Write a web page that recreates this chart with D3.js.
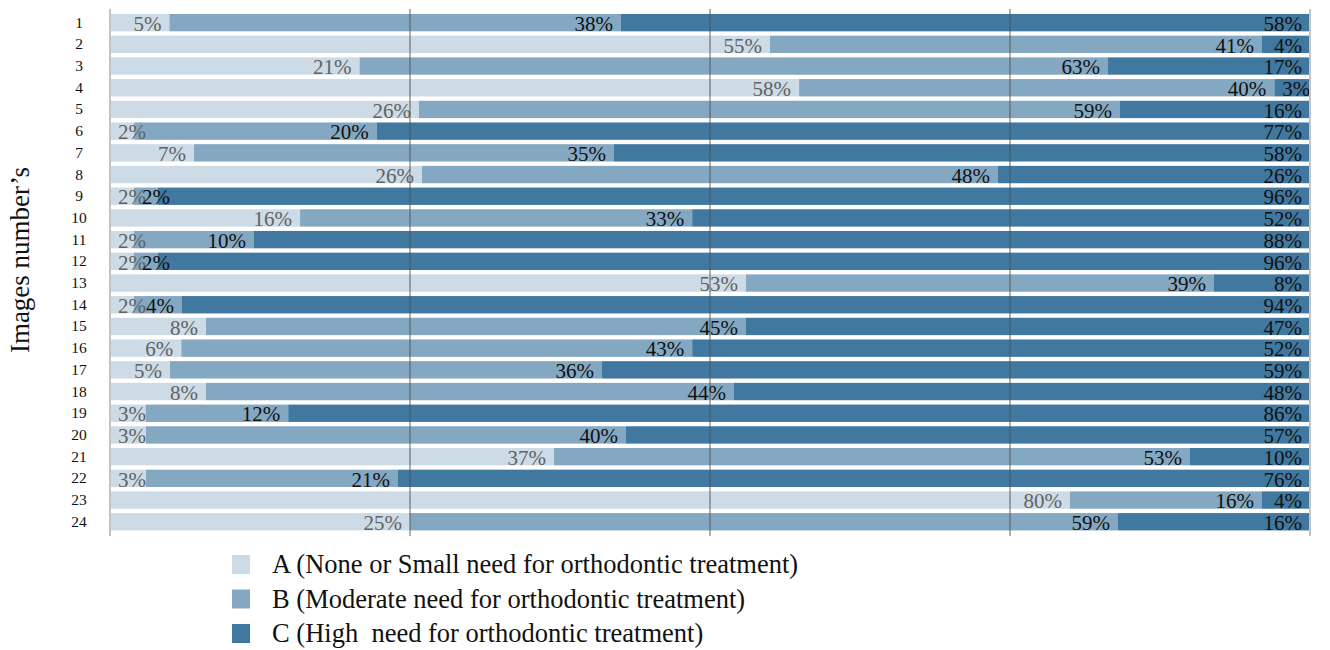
<!DOCTYPE html>
<html>
<head>
<meta charset="utf-8">
<script src="https://cdn.jsdelivr.net/npm/d3@7"></script>
<style>
  body { margin: 0; background: #fff; }
  text { font-family: "Liberation Serif", "Times New Roman", serif; }
</style>
</head>
<body>
<div id="chart"></div>
<script>
// image numbers 1..24, share of each treatment-need grade
var images = d3.range(1, 25).map(String);
var gradeA = [5, 55, 21, 58, 26, 2, 7, 26, 2, 16, 2, 2, 53, 2, 8, 6, 5, 8, 3, 3, 37, 3, 80, 25];
var gradeB = [38, 41, 63, 40, 59, 20, 35, 48, 2, 33, 10, 2, 39, 4, 45, 43, 36, 44, 12, 40, 53, 21, 16, 59];
var gradeC = [58, 4, 17, 3, 16, 77, 58, 26, 96, 52, 88, 96, 8, 94, 47, 52, 59, 48, 86, 57, 10, 76, 4, 16];
var gridTicks = [0, 0.25, 0.5, 0.75, 1];
var legendLabels = [
  "A (None or Small need for orthodontic treatment)",
  "B (Moderate need for orthodontic treatment)",
  "C (High\u00a0 need for orthodontic treatment)"
];

var W = 1330, H = 650;
var colors = ["#cddbe6", "#84a8c1", "#41789f"];
var labelColors = ["#626262", "#111111", "#111111"];

var svg = d3.select("#chart").append("svg")
  .attr("width", W).attr("height", H);

var x = d3.scaleLinear().domain([0, 1]).range([110, 1310]);
var y = d3.scaleBand().domain(images).range([11.8, 532.6])
  .paddingInner(0.2).paddingOuter(0.1);

// build stacked rows (normalised to the row total)
var rows = images.map(function(img, i) {
  var vals = [gradeA[i], gradeB[i], gradeC[i]];
  var total = d3.sum(vals);
  var acc = 0;
  return vals.map(function(v, k) {
    var seg = {img: img, k: k, v: v, x0: acc / total, x1: (acc + v) / total};
    acc += v;
    return seg;
  });
});
var segs = rows.flat();

svg.append("g").selectAll("rect")
  .data(segs)
  .enter().append("rect")
  .attr("x", function(d) { return x(d.x0); })
  .attr("width", function(d) { return x(d.x1) - x(d.x0); })
  .attr("y", function(d) { return y(d.img); })
  .attr("height", y.bandwidth())
  .attr("fill", function(d) { return colors[d.k]; });

// value labels
var lab = svg.append("g").selectAll("text")
  .data(segs)
  .enter().append("text")
  .attr("y", function(d) { return y(d.img) + y.bandwidth() - 0.5; })
  .style("font-size", "21px")
  .attr("fill", function(d) { return labelColors[d.k]; })
  .text(function(d) { return d.v + "%"; });

lab.each(function(d) {
  var t = d3.select(this);
  var w = this.getComputedTextLength();
  var segW = x(d.x1) - x(d.x0);
  if (w + 10 > segW) {
    t.attr("x", x(d.x0) + 8).attr("text-anchor", "start");
  } else {
    t.attr("x", x(d.x1) - 8).attr("text-anchor", "end");
  }
});

// grid lines
svg.append("g").selectAll("line")
  .data(gridTicks)
  .enter().append("line")
  .attr("x1", function(d) { return x(d); })
  .attr("x2", function(d) { return x(d); })
  .attr("y1", 9)
  .attr("y2", 536)
  .attr("stroke", function(d) { return (d === 0 || d === 1) ? "#c4c4c4" : "rgba(80,80,80,0.45)"; })
  .attr("stroke-width", 2);

// y tick labels
svg.append("g").selectAll("text")
  .data(images)
  .enter().append("text")
  .attr("x", 79)
  .attr("y", function(d) { return y(d) + y.bandwidth() / 2 + 5; })
  .attr("text-anchor", "middle")
  .style("font-size", "15.5px")
  .attr("fill", "#111")
  .text(function(d) { return d; });

// y axis title
svg.append("text")
  .attr("transform", "translate(29,260) rotate(-90)")
  .attr("text-anchor", "middle")
  .style("font-size", "27px")
  .attr("fill", "#111")
  .text("Images number\u2019s");

// legend
var leg = svg.append("g").selectAll("g")
  .data(legendLabels)
  .enter().append("g")
  .attr("transform", function(d, i) { return "translate(232," + (555 + i * 34.5) + ")"; });

leg.append("rect")
  .attr("width", 18).attr("height", 19)
  .attr("fill", function(d, i) { return colors[i]; });

leg.append("text")
  .attr("x", 40)
  .attr("y", 18)
  .style("font-size", "26.5px")
  .attr("fill", "#111")
  .text(function(d) { return d; });
</script>
</body>
</html>
